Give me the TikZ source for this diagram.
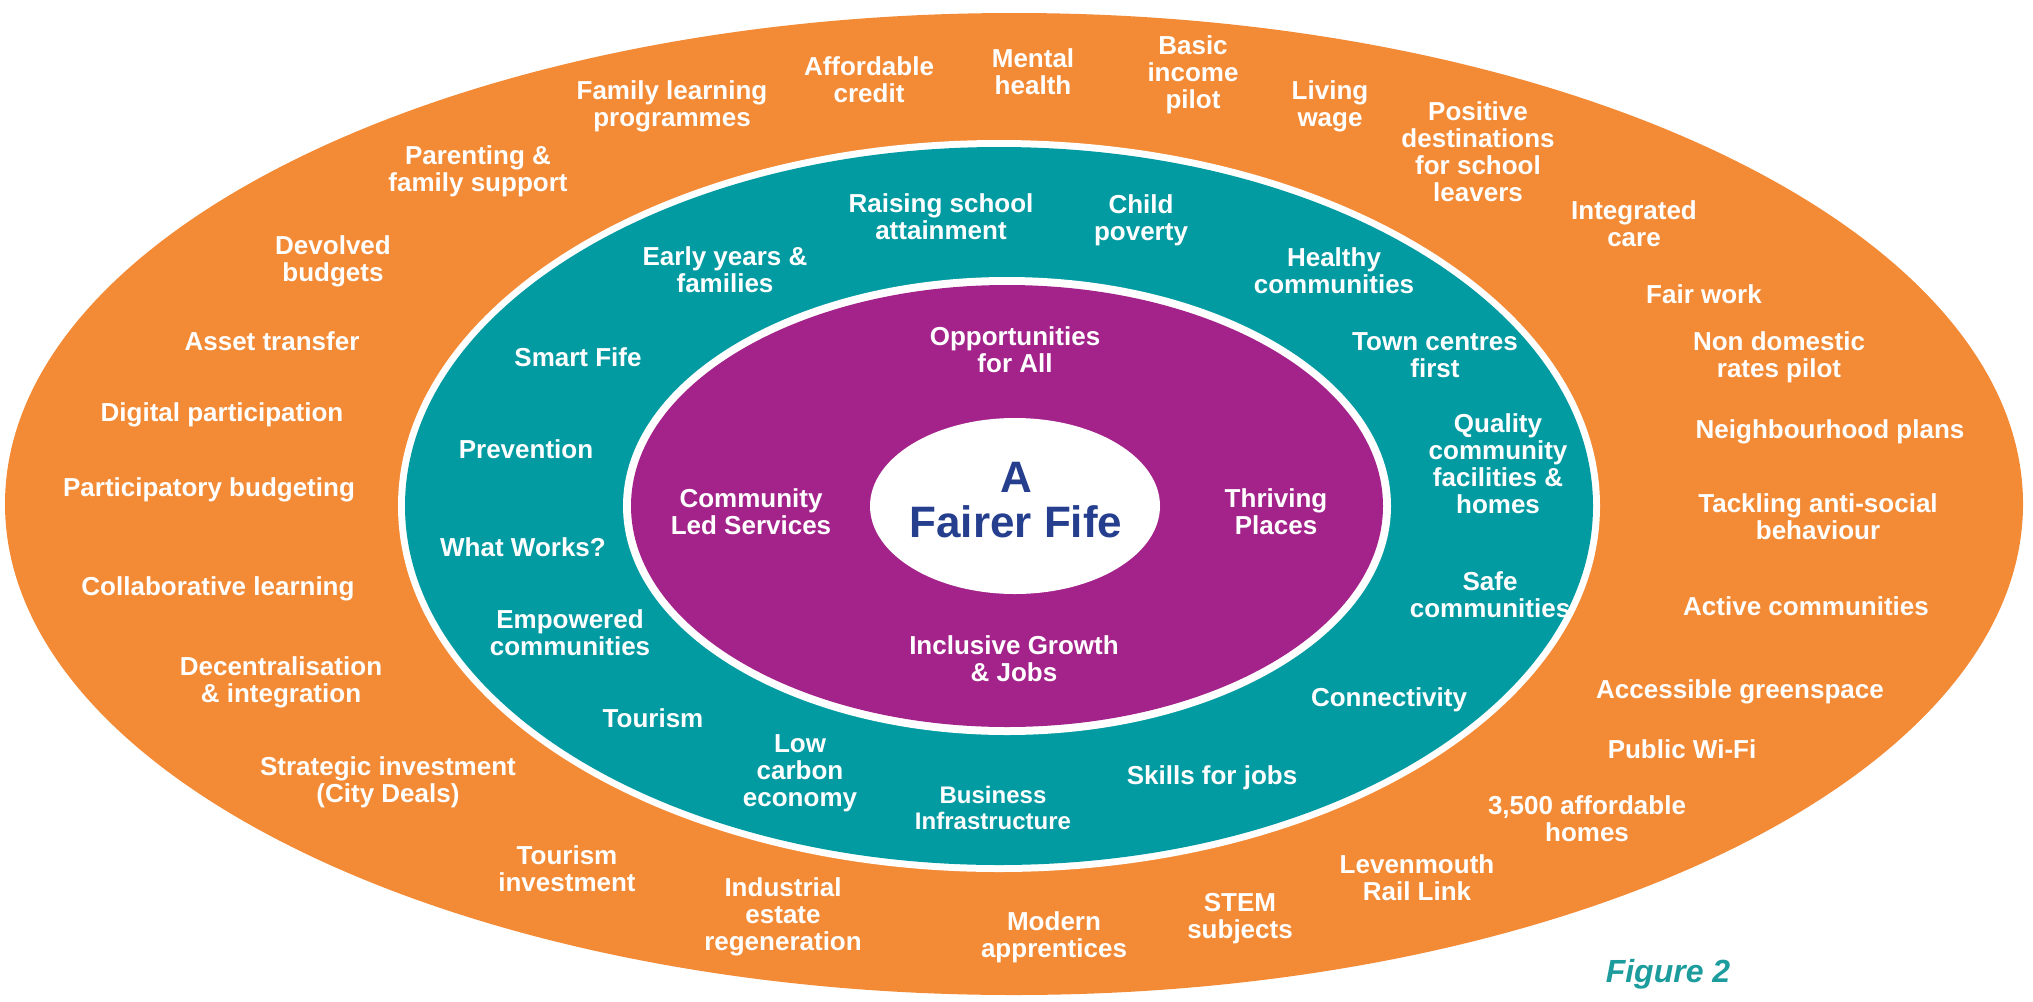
\documentclass[tikz,border=0pt]{standalone}
\usepackage{fontspec}
\setmainfont{Liberation Sans}
\definecolor{outerfill}{HTML}{F38A36}
\definecolor{midfill}{HTML}{039BA2}
\definecolor{innerfill}{HTML}{A3238B}
\definecolor{fifeblue}{HTML}{253F8E}
\definecolor{figteal}{HTML}{1D9C9D}
\newcommand{\itemsize}{\fontsize{13}{13.5}\selectfont}
\newcommand{\coresize}{\fontsize{22}{22.5}\selectfont}
\tikzset{
 every node/.append style={align=center,inner sep=0pt},
 item/.style={font=\itemsize\bfseries,text=white},
 core/.style={font=\coresize\bfseries,text=fifeblue},
 figtag/.style={font=\fontsize{16}{17}\selectfont\bfseries\itshape,text=figteal},
 gap/.style={fill=white},
}

\begin{document}
\begin{tikzpicture}[x=0.5pt,y=-0.5pt]
\useasboundingbox (0,0) rectangle (2033,1001);

% rings, outside in, with white gaps between them
\fill[outerfill] (1014,504) ellipse [x radius=1009, y radius=491];
\fill[gap]       (999,506)  ellipse [x radius=601, y radius=366];
\fill[midfill]   (999,506)  ellipse [x radius=594, y radius=359];
\fill[gap]       (1007,506) ellipse [x radius=384, y radius=229];
\fill[innerfill] (1007,506) ellipse [x radius=376, y radius=221];
\fill[white]     (1015,506) ellipse [x radius=145, y radius=88];

\node[core] (fairer) at (1016,500) {A\\Fairer Fife};

% inner ring
\node[item] (opps)   at (1015,350) {Opportunities\\for All};
\node[item] (commled) at (751,512) {Community\\Led Services};
\node[item] (thriving) at (1276,512) {Thriving\\Places};
\node[item] (growth) at (1014,659) {Inclusive Growth\\\& Jobs};

% middle ring
\node[item] (school)   at (941,217)  {Raising school\\attainment};
\node[item] (poverty)  at (1141,220) {Child\\poverty};
\node[item] (healthy)  at (1334,271) {Healthy\\communities};
\node[item] (towns)    at (1435,355) {Town centres\\first};
\node[item] (quality)  at (1498,464) {Quality\\community\\facilities \&\\homes};
\node[item] (safe)     at (1490,595) {Safe\\communities};
\node[item] (connect)  at (1389,700) {Connectivity};
\node[item] (skills)   at (1212,778) {Skills for jobs};
\node[item,font=\fontsize{12}{13}\selectfont\bfseries] (infra) at (993,808) {Business\\Infrastructure};
\node[item] (lowcarbon) at (800,773) {Low\\carbon\\economy};
\node[item] (tourism)  at (653,718)  {Tourism};
\node[item] (empower)  at (570,633)  {Empowered\\communities};
\node[item] (works)    at (523,547)  {What Works?};
\node[item] (prevent)  at (526,449)  {Prevention};
\node[item] (smart)    at (578,357)  {Smart Fife};
\node[item] (early)    at (725,270)  {Early years \&\\families};

% outer ring
\node[item] (famlearn) at (672,106)  {Family learning\\programmes};
\node[item] (credit)   at (869,80)   {Affordable\\credit};
\node[item] (mental)   at (1033,72)  {Mental\\health};
\node[item] (basic)    at (1193,75)  {Basic\\income\\pilot};
\node[item] (living)   at (1330,106) {Living\\wage};
\node[item] (leavers)  at (1478,152) {Positive\\destinations\\for school\\leavers};
\node[item] (care)     at (1634,224) {Integrated\\care};
\node[item] (fairwork) at (1704,294) {Fair work};
\node[item] (rates)    at (1779,357) {Non domestic\\rates pilot};
\node[item] (plans)    at (1830,432) {Neighbourhood plans};
\node[item] (antisoc)  at (1818,517) {Tackling anti-social\\behaviour};
\node[item] (active)   at (1806,606) {Active communities};
\node[item] (green)    at (1740,692) {Accessible greenspace};
\node[item] (wifi)     at (1682,749) {Public Wi-Fi};
\node[item] (homes)    at (1587,819) {3,500 affordable\\homes};
\node[item] (rail)     at (1417,878) {Levenmouth\\Rail Link};
\node[item] (stem)     at (1240,919) {STEM\\subjects};
\node[item] (apprent)  at (1054,937) {Modern\\apprentices};
\node[item] (estate)   at (783,917)  {Industrial\\estate\\regeneration};
\node[item] (tourinv)  at (567,869)  {Tourism\\investment};
\node[item] (citydeal) at (388,782)  {Strategic investment\\(City Deals)};
\node[item] (decentr)  at (281,682)  {Decentralisation\\\& integration};
\node[item] (collab)   at (218,589)  {Collaborative learning};
\node[item] (pbudget)  at (209,490)  {Participatory budgeting};
\node[item] (digital)  at (222,415)  {Digital participation};
\node[item] (asset)    at (272,341)  {Asset transfer};
\node[item] (devolved) at (333,261)  {Devolved\\budgets};
\node[item] (parent)   at (478,171)  {Parenting \&\\family support};

\node[figtag] (figno) at (1668,974) {Figure 2};
\end{tikzpicture}
\end{document}
